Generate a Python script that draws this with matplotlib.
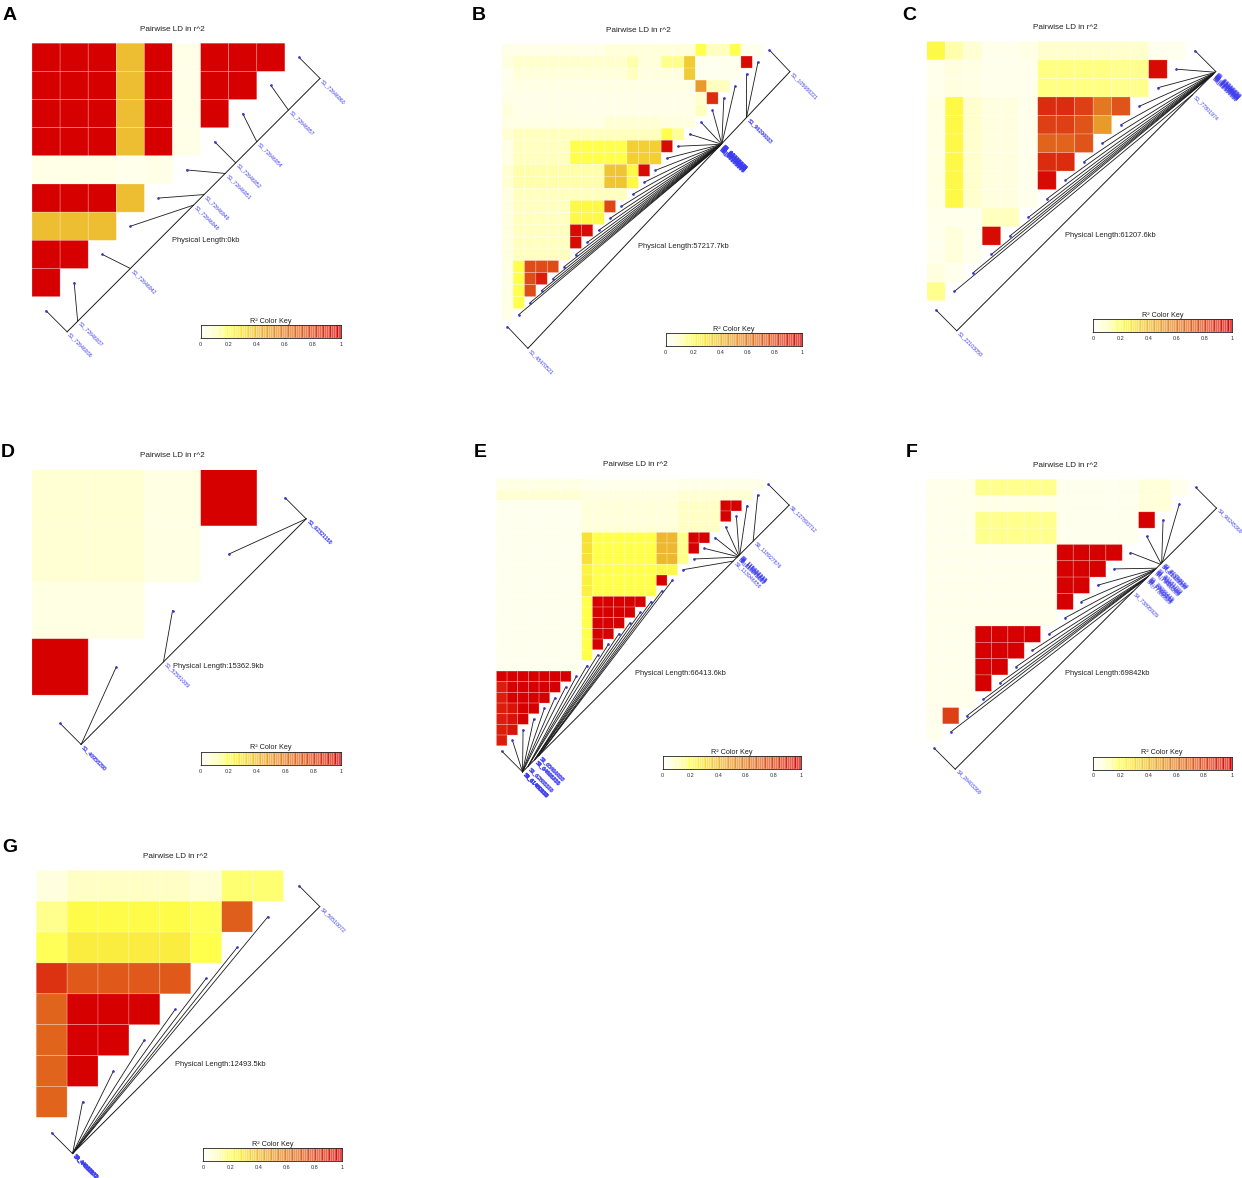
import numpy as np
import matplotlib
matplotlib.use("Agg")
import matplotlib.pyplot as plt
from matplotlib.colors import LinearSegmentedColormap

plt.rcParams["font.family"] = ["Liberation Sans", "DejaVu Sans"]

# ---------------- colour scale (r^2 -> colour) ----------------
r2_levels = [0.0, 0.05, 0.1, 0.15, 0.2, 0.3, 0.4, 0.5, 0.6, 0.7, 0.8, 0.9, 1.0]
r2_colors = ["#fffff2", "#ffffe0", "#ffffbe", "#ffff8c", "#ffff4b", "#f8e137",
             "#eebe32", "#e89b2a", "#e47d23", "#e1641c", "#de4616", "#dc260f", "#d70000"]
key_ticks = [0, 0.2, 0.4, 0.6, 0.8, 1]
key_tick_labels = ["0", "0.2", "0.4", "0.6", "0.8", "1"]

# ---------------- panel A ----------------
A_chrom = "S1"
A_pos = [72646936, 72646937, 72646942, 72646948, 72646949, 72646951, 72646952,
         72646954, 72646957, 72646960]
A_r2 = [
    [1, 1, 1, .4, 1, .03, 1, 1, 1],
    [1, 1, 1, .4, 1, .03, 1, 1],
    [1, 1, 1, .4, 1, .03, 1],
    [1, 1, 1, .4, 1, .03],
    [.03, .03, .03, .02, .03],
    [1, 1, 1, .4],
    [.4, .4, .4],
    [1, 1],
    [1],
]

# ---------------- panel B ----------------
B_chrom = "S1"
B_pos = [48470521, 90125007, 90163214, 90201877, 90240315, 90278904, 90317022,
         90355741, 90394208, 90432660, 90471137, 90509583, 90548012, 90586440,
         90624881, 90663309, 90701748, 90740176, 90778605, 90817043, 90855472,
         96190083, 96204117, 105688221]
B_r2 = [
    [.03] * 9 + [.06] * 8 + [.2, .1, .1, .2, .01, .01],
    [.05] + [.08] * 10 + [.12, .06, .06, .15, .15, .36] + [.01] * 4 + [.97],
    [.02] + [.06] * 10 + [.1, .05, .05, .05, .05, .36] + [.01] * 4,
    [.02] + [.04] * 16 + [.5, .1, .1],
    [.03] * 17 + [.08, .88],
    [.06] + [.03] * 16 + [.1],
    [.04] * 9 + [.07] * 5 + [.05] * 3,
    [.07] + [.1] * 13 + [.2, .14],
    [.04] + [.1] * 5 + [.2] * 5 + [.35] * 3 + [.97],
    [.04] + [.1] * 5 + [.2] * 5 + [.35] * 3,
    [.07] + [.12] * 8 + [.38, .38, .22, .97],
    [.07] + [.12] * 8 + [.38, .38, .22],
    [.05] + [.1] * 10,
    [.05] + [.1] * 5 + [.22] * 3 + [.8],
    [.05] + [.1] * 5 + [.22] * 3,
    [.05] + [.1] * 5 + [.97, .97],
    [.05] + [.1] * 5 + [.97],
    [.05] + [.1] * 5,
    [.04, .2, .78, .78, .78],
    [.04, .2, .78, .92],
    [.04, .2, .78],
    [.04, .2],
    [.03],
]

# ---------------- panel C ----------------
C_chrom = "S1"
C_pos = [22103058, 77801974, 82331337, 82404786, 82478235, 82551684,
         82625133, 82698582, 82772031, 82845480, 82918929, 82992378,
         83065827, 83139276, 83310658]
C_r2 = [
    [.22, .12, .07, .02, .02, .04, .08, .08, .08, .08, .08, .08, .01, .01],
    [.02, .05, .04, .02, .02, .02, .16, .16, .16, .16, .15, .15, .97],
    [.02, .05, .04, .02, .02, .02, .16, .16, .16, .16, .15, .15],
    [.04, .22, .08, .05, .05, .02, .88, .88, .82, .62, .75],
    [.04, .22, .08, .05, .05, .02, .82, .82, .75, .5],
    [.04, .22, .08, .05, .05, .02, .7, .7, .75],
    [.04, .22, .08, .05, .05, .02, .88, .88],
    [.04, .22, .08, .05, .05, .02, .97],
    [.04, .22, .08, .05, .05, .02],
    [.02, .02, .02, .1, .1],
    [.02, .06, .02, .97],
    [.02, .06, .02],
    [.05, .02],
    [.15],
]

# ---------------- panel D ----------------
D_chrom = "S1"
D_pos = [46958268, 46958290, 52581089, 62321150, 62321168]
D_r2 = [
    [.07, .07, .04, 1],
    [.07, .07, .04],
    [.04, .04],
    [1],
]

# ---------------- panel E ----------------
E_chrom = "S6"
E_pos = [61480112, 61480187, 61480251, 61480330, 61480412, 61480476, 61480539,
         62808384, 62835112, 62861870, 64468726, 64495291, 64521855, 64548420,
         65464928, 65491493, 65518057, 113946856, 114943060, 115075887,
         115208714, 115341541, 115474368, 115607195, 118927876, 127893712]
E_r2 = [
    [.04] * 8 + [.02] * 9 + [.03] * 8,
    [.07] * 8 + [.05] * 9 + [.07] * 7,
    [.01] * 8 + [.06] * 9 + [.09] * 4 + [1, 1],
    [.01] * 8 + [.06] * 9 + [.09] * 4 + [1],
    [.01] * 8 + [.06] * 9 + [.09] * 4,
    [.01] * 8 + [.3] + [.2] * 6 + [.42, .42, .15, 1, 1],
    [.01] * 8 + [.3] + [.2] * 6 + [.42, .42, .15, 1],
    [.01] * 8 + [.3] + [.2] * 6 + [.42, .42, .15],
    [.01] * 8 + [.24] + [.2] * 6 + [.22, .22],
    [.01] * 8 + [.25] + [.2] * 6 + [1],
    [.01] * 8 + [.25] + [.2] * 6,
    [.01] * 8 + [.2] + [1] * 5,
    [.01] * 8 + [.2] + [1] * 4,
    [.01] * 8 + [.2] + [1] * 3,
    [.01] * 8 + [.2] + [1] * 2,
    [.01] * 8 + [.2] + [1],
    [.01] * 8 + [.2],
    [.01] * 8,
    [1] * 7,
    [.92] + [1] * 5,
    [.92] + [1] * 4,
    [.92, .95, 1, 1],
    [.92, .95, 1],
    [.92, .95],
    [.92],
]

# ---------------- panel F ----------------
F_chrom = "S4"
F_pos = [26403369, 73895929, 77388029, 77562634, 77737239, 77911844, 78086449,
         79483289, 79657894, 79832499, 80007104, 80181709, 81229339, 81403944,
         81578549, 81753154, 96245369]
F_r2 = [
    [.02] * 3 + [.15] * 5 + [.01] * 5 + [.06, .06, .02],
    [.02] * 3 + [.03] * 5 + [.01] * 5 + [.06, .06],
    [.02] * 3 + [.15] * 5 + [.01] * 5 + [1],
    [.02] * 3 + [.15] * 5 + [.01] * 5,
    [.02] * 8 + [1] * 4,
    [.02] * 8 + [1] * 3,
    [.02] * 8 + [1] * 2,
    [.02] * 8 + [1],
    [.02] * 8,
    [.02] * 3 + [1] * 4,
    [.02] * 3 + [1] * 3,
    [.02] * 3 + [1] * 2,
    [.02] * 3 + [1],
    [.02] * 3,
    [.02, .82],
    [.02],
]

# ---------------- panel G ----------------
G_chrom = "S4"
G_pos = [44016572, 44019672, 44023772, 44028372, 44032972, 44037572, 44042472,
         44047772, 56510072]
G_r2 = [
    [.05, .09, .09, .09, .09, .07, .17, .17],
    [.15, .21, .21, .21, .21, .19, .72],
    [.19, .26, .26, .26, .26, .2],
    [.86, .74, .74, .74, .74],
    [.7, 1, 1, 1],
    [.7, 1, 1],
    [.7, 1],
    [.7],
]

panels = [
    ("A", A_chrom, A_pos, A_r2),
    ("B", B_chrom, B_pos, B_r2),
    ("C", C_chrom, C_pos, C_r2),
    ("D", D_chrom, D_pos, D_r2),
    ("E", E_chrom, E_pos, E_r2),
    ("F", F_chrom, F_pos, F_r2),
    ("G", G_chrom, G_pos, G_r2),
]

# ---------------- layout (pixels) ----------------
FW, FH = 1242, 1178
heat_box = {  # left, top, width, height of the LD matrix square
    "A": (32.0, 43.2, 281.0, 281.6),
    "B": (501.7, 44.0, 273.4, 288.7),
    "C": (926.7, 41.4, 277.5, 277.8),
    "D": (31.9, 469.5, 281.3, 282.0),
    "E": (496.4, 479.0, 277.3, 277.4),
    "F": (926.2, 479.2, 277.7, 277.3),
    "G": (36.2, 870.3, 278.2, 277.9),
}
letter_xy = {"A": (2.5, 20.5), "B": (472, 20.5), "C": (902, 20.5),
             "D": (0.5, 456.5), "E": (474, 456.5), "F": (905.5, 456.5),
             "G": (2.5, 851.5)}

cmap = LinearSegmentedColormap.from_list(
    "ld", list(zip(r2_levels, r2_colors)), N=512)

fig = plt.figure(figsize=(FW / 100, FH / 100), dpi=100)
fig.patch.set_facecolor("white")


def px_axes(left, top, w, h):
    return fig.add_axes([left / FW, 1 - (top + h) / FH, w / FW, h / FH])


def fmt_len(v):
    s = "%.1f" % round(v, 1)
    return s[:-2] if s.endswith(".0") else s


for letter, chrom, pos, rows in panels:
    n = len(pos)
    M = np.full((n, n), np.nan)
    for r, row in enumerate(rows):
        M[r, :len(row)] = row
    left, top, w, h = heat_box[letter]
    ax = px_axes(left, top, w, h)
    ax.set_xlim(0, n)
    ax.set_ylim(n, 0)
    ax.axis("off")
    ax.pcolor(np.arange(n + 1), np.arange(n + 1), np.ma.masked_invalid(M),
              cmap=cmap, vmin=0, vmax=1, edgecolors=(1, 1, 1, 0.35),
              linewidth=0.45)

    # genetic map line
    k = np.arange(n)
    dx = k + 0.5
    dy = n - k - 0.5
    off = 0.075 * n
    x0, y0 = 0.5 + off, n - 0.5 + off
    x1, y1 = n - 0.5 + off, 0.5 + off
    p = np.array(pos, dtype=float)
    t = (p - p.min()) / (p.max() - p.min())
    lx = x0 + t * (x1 - x0)
    ly = y0 + t * (y1 - y0)
    ax.plot([x0, x1], [y0, y1], color="#1a1a1a", lw=0.7, clip_on=False)
    for i in range(n):
        ax.plot([dx[i], lx[i]], [dy[i], ly[i]], color="#1a1a1a", lw=0.6,
                clip_on=False)
    ax.plot(dx, dy, "o", ms=1.9, color="#3434cc", mec="none", clip_on=False)
    for i in range(n):
        ax.annotate(f"{chrom}_{pos[i]}", (lx[i], ly[i]), xytext=(1.2, -1.2),
                    textcoords="offset points", rotation=-45,
                    rotation_mode="anchor", ha="left", va="center",
                    fontsize=3.8, color="#3c3cf0", annotation_clip=False)

    # titles
    ax.text(0.5, 1 + 14 / h, "Pairwise LD in r^2", transform=ax.transAxes,
            ha="center", va="center", fontsize=5.9, color="#222222")
    length_kb = (p.max() - p.min()) / 1000.0
    ax.text(0.5, 0.30, "Physical Length:" + fmt_len(length_kb) + "kb",
            transform=ax.transAxes, ha="left", va="center", fontsize=5.4,
            color="#222222")

    # colour key
    kax = px_axes(left + 0.6 * w, top + h * 1.0, 0.5 * w, 0.047 * h)
    lev = np.linspace(0, 1, 61)
    kax.pcolormesh(lev, [0, 1], ((lev[:-1] + lev[1:]) / 2)[None, :], cmap=cmap,
                   vmin=0, vmax=1, edgecolors=(1, 1, 1, 0.28), linewidth=0.25)
    kax.set_xlim(0, 1)
    kax.set_ylim(0, 1)
    kax.set_yticks([])
    kax.set_xticks(key_ticks)
    kax.set_xticklabels(key_tick_labels, fontsize=4, color="#333333")
    kax.tick_params(axis="x", length=1.0, width=0.3, pad=1.8)
    for s in kax.spines.values():
        s.set_linewidth(0.6)
        s.set_color("#222222")
    kax.set_title("R\u00b2 Color Key", fontsize=5.2, pad=1.5, color="#222222")

    lx_, ly_ = letter_xy[letter]
    fig.text(lx_ / FW, 1 - ly_ / FH, letter, fontsize=14, fontweight="bold",
             ha="left", va="baseline")

fig.savefig("out.png", dpi=100)
